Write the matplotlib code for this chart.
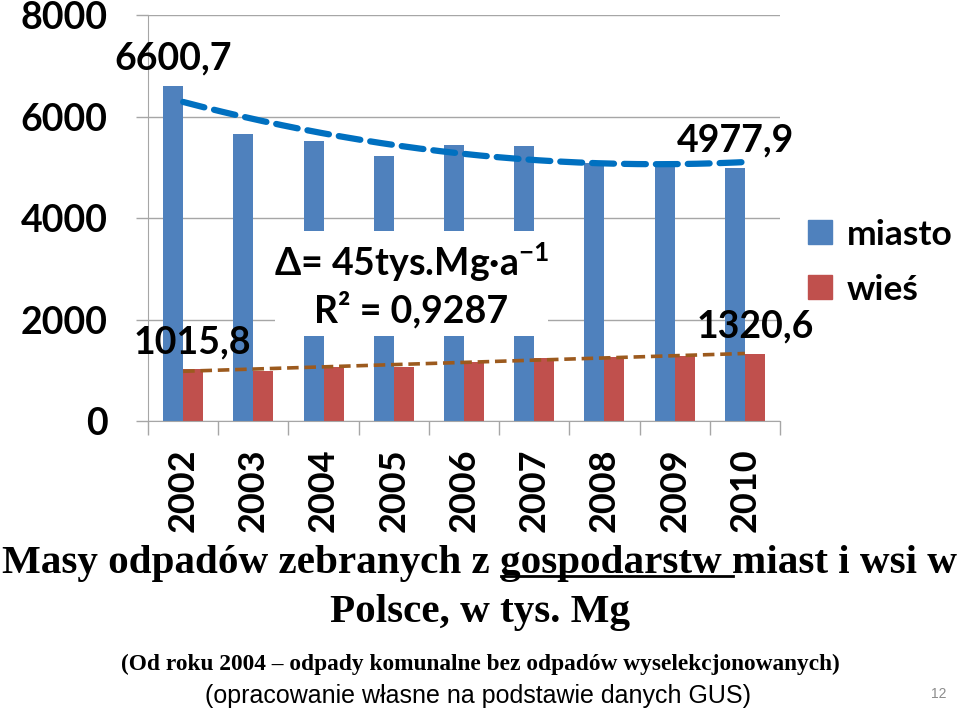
import numpy as np
import matplotlib
matplotlib.use("Agg")
import matplotlib.pyplot as plt
from matplotlib.patches import Rectangle
from matplotlib.lines import Line2D

# dane (tys. Mg)
lata = ["2002", "2003", "2004", "2005", "2006", "2007", "2008", "2009", "2010"]
miasto = [6600.7, 5655, 5517, 5222, 5438, 5419, 5084, 5080, 4977.9]
wies = [1015.8, 993, 1070, 1058, 1168, 1235, 1255, 1281, 1320.6]
y_ticks = [0, 2000, 4000, 6000, 8000]

plt.rcParams['mathtext.fontset'] = 'custom'
plt.rcParams['mathtext.rm'] = 'Lato:bold'
plt.rcParams['mathtext.default'] = 'rm'

niebieski = '#4F81BD'
czerwony = '#C0504D'
szary = '#A6A6A6'
bold = dict(family=['Lato', 'DejaVu Sans'], fontweight='bold')
rozm = 27

fig = plt.figure(figsize=(9.6, 7.12), dpi=100)
ax = fig.add_axes([0.1542, 0.4087, 0.6583, 0.5702])

x = np.arange(len(lata))
w = 0.285
ax.bar(x - w / 2, miasto, w, color=niebieski, zorder=2, label='miasto')
ax.bar(x + w / 2, wies, w, color=czerwony, zorder=2, label='wieś')

# linie trendu
xs = np.linspace(0, len(lata) - 1, 200)
p_m = np.polyfit(x, miasto, 2)
p_w = np.polyfit(x, wies, 1)
ax.plot(xs, np.polyval(p_m, xs), color='#0070C0', lw=4.5,
        linestyle=(0, (3.5, 1.6)), dash_capstyle='round', zorder=4)
ax.plot(xs, np.polyval(p_w, xs), color='#9C5A1E', lw=2.6,
        linestyle=(0, (3.2, 1.6)), zorder=4)

# biale pole pod opisem
ax.add_patch(Rectangle((1.31, 1675), 3.89, 2070, facecolor='white',
                       edgecolor='none', zorder=3))
ax.text(3.25, 3133, 'Δ= 45tys.Mg·a$^{-1}$', ha='center', va='center',
        fontsize=rozm, zorder=5, **bold)
ax.text(3.25, 2187, 'R² = 0,9287', ha='center', va='center',
        fontsize=rozm, zorder=5, **bold)

# etykiety wartosci
ax.text(-0.144, 7153, '6600,7', ha='center', va='center', fontsize=rozm, **bold)
ax.text(0.127, 1557, '1015,8', ha='center', va='center', fontsize=rozm, **bold)
ax.text(7.86, 5537, '4977,9', ha='center', va='center', fontsize=rozm, **bold)
ax.text(8.15, 1872, '1320,6', ha='center', va='center', fontsize=rozm, **bold)

ax.set_xlim(-0.5, len(lata) - 0.5)
ax.set_ylim(0, 8000)
ax.set_yticks(y_ticks)
ax.set_yticklabels([str(v) for v in y_ticks], fontsize=rozm, **bold)
ax.set_xticks(x)
ax.set_xticklabels(lata, rotation=90, fontsize=26, **bold)
ax.set_xticks(np.arange(len(lata) + 1) - 0.5, minor=True)
ax.tick_params(axis='x', which='major', length=0, pad=20)
ax.tick_params(axis='x', which='minor', length=10, color=szary, width=1)
ax.tick_params(axis='y', length=9, color=szary, width=1, pad=20)
ax.grid(axis='y', color=szary, lw=1, zorder=0)
for s in ['top', 'right']:
    ax.spines[s].set_visible(False)
for s in ['left', 'bottom']:
    ax.spines[s].set_color(szary)

# legenda
uchwyty = [Rectangle((0, 0), 1, 1, color=niebieski), Rectangle((0, 0), 1, 1, color=czerwony)]
fig.legend(uchwyty, ['miasto', 'wieś'], loc='upper left', bbox_to_anchor=(0.842, 0.693),
           frameon=False, prop=dict(family=['Lato', 'DejaVu Sans'], weight='bold', size=25.5),
           handlelength=0.68, handleheight=0.68, handletextpad=0.4, labelspacing=0.65,
           borderaxespad=0, borderpad=0)

# tytul
serif = ['Liberation Serif', 'DejaVu Serif']
tytul = 'Masy odpadów zebranych z gospodarstw miast i wsi w'
t = fig.text(0.5, 0.195, tytul, ha='center', va='baseline', fontsize=29.6,
             family=serif, fontweight='bold')
fig.text(0.5, 0.126, 'Polsce, w tys. Mg', ha='center', va='baseline', fontsize=29.6,
         family=serif, fontweight='bold')
fig.text(0.5, 0.059, '(Od roku 2004 – odpady komunalne bez odpadów wyselekcjonowanych)',
         ha='center', va='baseline', fontsize=16.8, family=serif, fontweight='bold')
fig.text(0.498, 0.013, '(opracowanie własne na podstawie danych GUS)', ha='center',
         va='baseline', fontsize=18, family=['Liberation Sans', 'DejaVu Sans'])
fig.text(0.978, 0.02, '12', ha='center', va='baseline', fontsize=10, color='#8C8C8C',
         family=['Liberation Sans'])

# podkreslenie slowa "gospodarstw "
fig.canvas.draw()
r = fig.canvas.get_renderer()
bb = t.get_window_extent(r)
prop = t.get_fontproperties()
w1 = r.get_text_width_height_descent('Masy odpadów zebranych z ', prop, ismath=False)[0]
w2 = r.get_text_width_height_descent('Masy odpadów zebranych z gospodarstw ', prop, ismath=False)[0]
yl = bb.y0 + 6
fig.add_artist(Line2D([(bb.x0 + w1) / fig.bbox.width, (bb.x0 + w2) / fig.bbox.width],
                      [yl / fig.bbox.height] * 2, color='black', lw=2))

fig.savefig('out.png', dpi=100)
